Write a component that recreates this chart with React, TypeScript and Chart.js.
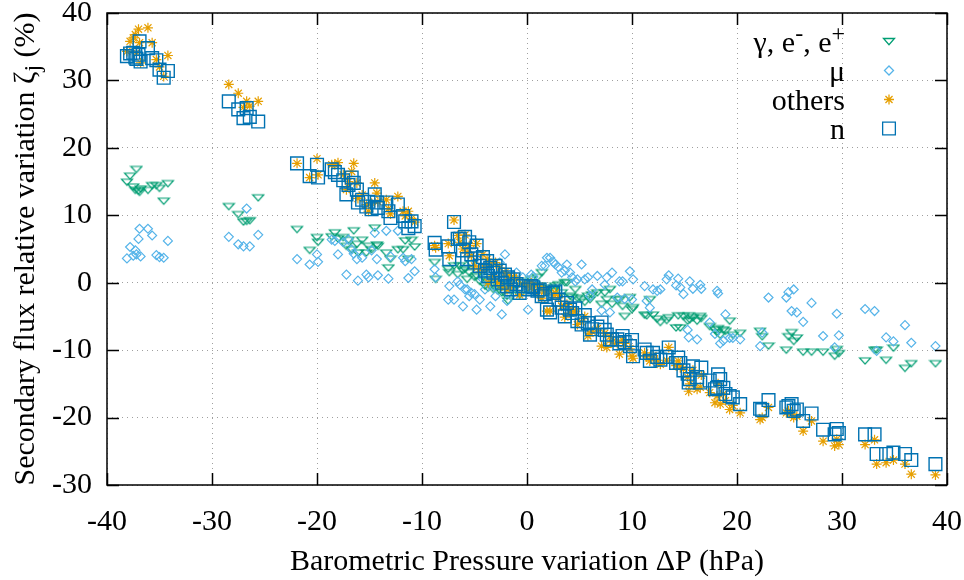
import React, { useEffect, useRef } from 'react';
import { Chart, registerables } from 'chart.js';

Chart.register(...registerables);

// Barometric pressure variation ΔP (hPa), shared by all four series
const pressure = [
  -38.1, -37.8, -37.5, -37.3, -37.2, -37.0, -36.9, -36.8, -36.1, -35.7, -35.3, -35.0, -34.6, -34.2,
  -28.4, -27.5, -27.0, -26.7, -26.4, -25.6,
  -21.9, -20.7, -20.0, -19.9, -18.6, -18.3, -18.0, -17.5, -17.2, -17.0, -16.7, -16.5, -16.2, -16.1, -15.7,
  -15.3, -15.1, -14.8, -14.5, -14.3, -14.2, -13.4, -13.2, -13.0, -12.3, -11.8, -11.6, -11.3, -11.0, -10.7,
  -8.8, -8.7, -7.5, -7.4, -6.95, -6.6, -6.4, -6.1, -5.9, -5.7, -5.5, -5.3, -5.0, -4.8, -4.5, -4.2, -4.0,
  -3.8, -3.7, -3.5, -3.2, -3.0, -2.8, -2.6, -2.4, -2.1, -1.9, -1.8, -1.5, -1.3, -1.0, -0.7, -0.4, 0.1,
  0.4, 0.6, 1.0, 1.2, 1.4, 1.7, 1.9, 2.2, 2.5, 2.7, 3.0, 3.3, 3.6, 3.8, 4.1, 4.3, 4.6, 4.8, 5.2, 5.5,
  5.8, 6.0, 6.2, 6.7, 7.1, 7.4, 7.6, 7.9, 8.1, 8.6, 8.8, 9.1, 9.3, 9.8, 10.0, 10.1,
  11.2, 11.4, 11.7, 12.0, 12.4, 12.7, 13.3, 13.5, 14.2, 14.4, 14.6, 14.9, 15.3, 15.4, 15.5, 15.8, 16.2,
  16.5, 16.6, 17.4, 17.9, 18.1, 18.2, 18.4, 18.7, 18.9, 19.3, 19.6,
  20.3, 22.2, 22.4, 23.0, 24.7, 24.9, 25.2, 25.4, 25.7, 26.3, 27.1, 28.2, 29.3, 29.5, 29.7,
  32.2, 33.1, 33.3, 34.2, 34.9, 36.0, 36.6, 38.9,
];

// ζ for n
const neutronFlux = [
  33.6, 34.0, 34.1, 33.4, 33.2, 33.8, 35.8, 32.8, 34.8, 33.3, 33.0, 31.6, 30.4, 31.4,
  26.9, 25.7, 24.4, 25.9, 24.6, 23.9,
  17.7, 15.8, 17.5, 15.6, 16.8, 16.4, 16.0, 15.2, 13.1, 14.5, 15.6, 14.8, 13.8, 11.9, 12.3,
  11.3, 12.0, 10.9, 13.1, 11.9, 11.1, 11.9, 10.6, 9.6, 11.6, 9.9, 9.1, 8.1, 9.1, 8.4,
  5.9, 4.9, 5.4, 3.5, 9.0, 6.5, 6.5, 4.8, 6.8, 3.5, 6.0, 4.2, 3.0, 5.5, 2.5, 3.8, 1.8,
  3.2, 1.0, 2.2, 1.5, 2.5, 0.5, 1.8, 0.0, 1.2, -0.5, 0.8, -1.0, 0.5, -0.2, -1.5, -0.5, -1.0,
  -0.5, -0.7, -1.2, -1.0, -2.0, -1.7, -4.0, -4.4, -1.5, -1.3, -2.5, -3.7, -5.0, -3.0, -4.0, -4.5, -3.8, -5.7, -6.2, -4.8,
  -6.0, -7.7, -6.9, -6.5, -5.9, -7.0, -7.7, -8.4, -8.4, -8.4, -9.0, -7.9, -8.8, -9.4, -8.5, -10.9,
  -9.9, -10.4, -11.6, -10.4, -11.0, -11.4, -11.0, -9.6, -11.9, -11.1, -11.9, -13.0, -13.5, -14.8, -14.3, -12.4, -14.0,
  -14.8, -12.6, -14.5, -15.8, -15.6, -13.6, -14.3, -15.6, -16.5, -16.8, -17.0,
  -18.0, -18.7, -18.9, -17.4, -18.5, -18.3, -18.0, -19.0, -18.8, -20.5, -19.4, -21.8, -22.5, -21.7, -22.3,
  -22.5, -22.5, -25.4, -25.4, -25.2, -25.4, -26.3, -26.9,
];

// ζ for others
const othersFlux = [
  34.3, 35.8, 36.3, 36.8, 34.1, 37.6, 35.6, 32.6, 37.8, 35.6, 33.1, 32.0, 30.6, 33.7,
  29.4, 28.1, 26.0, 26.9, 26.2, 26.9,
  17.7, 15.6, 18.4, 16.0, 17.5, 17.5, 17.8, 16.0, 13.8, 15.0, 16.5, 17.7, 14.8, 12.5, 13.0,
  11.6, 10.6, 11.8, 14.8, 13.3, 12.0, 12.3, 11.0, 10.2, 12.8, 10.6, 9.9, 10.6, 9.5, 9.0,
  5.5, 5.2, 5.8, 4.0, 9.3, 7.0, 6.0, 5.0, 7.1, 4.5, 5.5, 4.0, 2.5, 5.8, 2.0, 4.2, 2.2,
  3.5, 0.0, 2.8, 1.0, 3.0, 0.0, 2.2, -0.5, 1.5, -1.0, 1.0, -0.5, 0.8, 0.5, -1.8, -0.2, -0.5,
  0.0, -1.0, -1.5, -0.5, -2.3, -1.2, -4.2, -4.2, -1.8, -1.5, -2.2, -3.5, -5.1, -3.2, -4.5, -4.0, -4.2, -6.2, -5.8, -5.0,
  -7.9, -7.5, -7.2, -6.8, -9.4, -7.5, -9.6, -8.0, -8.8, -9.0, -10.6, -8.5, -9.0, -9.8, -10.9, -11.2,
  -10.4, -11.0, -11.6, -10.8, -11.5, -12.1, -11.5, -9.6, -12.3, -11.6, -12.5, -12.8, -14.0, -16.1, -15.0, -13.0, -15.8,
  -15.5, -13.7, -16.3, -17.8, -16.8, -15.0, -18.0, -16.5, -17.5, -18.8, -18.2,
  -19.3, -20.3, -20.0, -18.5, -19.3, -19.0, -19.5, -20.0, -19.8, -22.0, -20.5, -23.5, -24.2, -23.2, -24.0,
  -24.0, -23.3, -26.9, -26.7, -26.3, -26.9, -28.4, -28.5,
];

// ζ for γ, e-, e+
const gammaFlux = [
  14.9, 15.8, 14.2, 13.7, 16.8, 13.6, 13.4, 13.9, 13.7, 14.4, 14.4, 14.0, 12.1, 14.7,
  11.3, 10.1, 9.0, 9.1, 9.2, 12.6,
  7.9, 4.8, 6.7, 6.0, 6.8, 7.4, 6.5, 6.7, 5.4, 6.3, 4.9, 7.7, 5.7, 4.4, 6.3,
  4.4, 5.4, 4.9, 8.1, 5.6, 5.4, 4.4, 2.2, 3.5, 4.9, 4.9, 6.2, 3.5, 6.3, 5.3,
  3.0, 0.5, 2.0, 1.5, 2.5, 1.2, 2.5, 1.8, 2.0, 0.5, 1.5, 2.8, 0.8, 1.0, 0.2, 1.5, -0.5,
  0.2, -0.8, 0.5, -1.0, 0.0, -1.2, -0.3, -1.5, -0.5, -2.0, -2.7, -1.0, 0.5, -0.5, -1.8, 0.2, -0.8,
  0.5, -0.5, 0.8, -0.5, 1.5, -1.0, -1.5, -0.8, -1.2, -0.5, -0.3, -1.5, 0.0, 0.0, -2.0, -2.2, -1.0, -2.3, -2.5, -2.9,
  -2.0, -2.5, -1.8, -1.5, -3.2, -1.5, -2.5, -1.0, -3.2, -2.5, -2.5, -3.5, -5.0, -2.2, -4.0, -3.7,
  -4.8, -4.9, -2.5, -4.8, -5.4, -5.9, -5.6, -5.2, -6.7, -4.9, -6.7, -5.0, -5.7, -4.9, -5.5, -5.2, -5.7,
  -5.0, -5.3, -6.5, -7.0, -7.4, -6.8, -7.8, -7.0, -7.2, -5.7, -7.8,
  -7.5, -7.2, -8.0, -9.4, -10.0, -8.0, -7.4, -8.7, -8.2, -10.3, -10.3, -10.3, -10.9, -9.9, -10.5,
  -11.6, -10.0, -10.0, -11.5, -9.7, -12.7, -12.0, -12.0,
];

// ζ for μ
const muonFlux = [
  3.6, 5.3, 4.0, 4.8, 4.2, 6.5, 8.0, 3.9, 8.0, 7.0, 4.1, 3.8, 3.7, 6.2,
  6.8, 5.7, 5.4, 11.0, 5.4, 7.1,
  3.5, 2.7, 4.2, 3.1, 6.4, 6.2, 4.2, 6.0, 1.2, 6.4, 4.9, 4.3, 3.5, 0.3, 3.7,
  1.2, 0.8, 4.8, 7.4, 3.5, 1.1, 7.7, 0.6, 3.9, 7.7, 3.7, 3.2, 0.7, 3.5, 1.7,
  2.0, 0.8, -2.5, -0.5, -2.5, 0.2, -0.3, -3.5, -1.0, -1.0, -2.0, -1.5, -1.7, -4.0, -2.5, 0.5, -1.0,
  2.0, 2.7, -3.5, -0.5, -2.0, 1.0, 3.0, -4.7, 4.2, -2.7, -0.5, 0.5, -1.5, 1.5, -1.0, 0.8, -4.0,
  1.2, 0.9, -0.2, -1.7, 2.5, 2.5, 3.7, 3.7, 3.1, 2.7, 2.3, 1.5, 1.8, 2.7, 1.5, 0.8, 0.2, 0.5, 2.7, 0.5,
  0.8, -2.0, -1.0, 1.0, -4.1, -0.3, 0.8, -4.4, 1.5, -2.2, 0.2, 0.2, -2.4, 1.7, -2.5, 0.5,
  -0.5, -2.7, -3.7, -1.0, -1.2, -1.0, 0.5, 1.1, -0.4, 0.6, -0.7, -1.7, -7.0, -8.1, 0.2, -0.9, -8.4,
  -0.3, -0.9, -5.9, -7.6, -1.2, -1.6, -9.0, -8.6, -4.7, -8.2, -8.2,
  -8.4, -9.4, -7.4, -2.2, -2.2, -1.4, -4.2, -1.0, -4.4, -5.8, -3.0, -7.9, -9.6, -4.6, -7.8,
  -3.9, -4.2, -10.1, -8.1, -8.7, -6.3, -8.9, -9.4,
];

const xTicks = [-40, -30, -20, -10, 0, 10, 20, 30, 40];
const yTicks = [-30, -20, -10, 0, 10, 20, 30, 40];

const legendLabels = ['γ, e-, e+', 'μ', 'others', 'n'];
const xTitle = 'Barometric Pressure variation ΔP (hPa)';
const yTitle = 'Secondary flux relative variation ζj (%)';

const COLORS = {
  gamma: '#009e73',
  muon: '#56b4e9',
  others: '#e69f00',
  neutron: '#0072b2',
};

const FONT = '"Liberation Serif", "Times New Roman", Times, serif';
const FS = 30;

function traceTriangle(ctx: CanvasRenderingContext2D, x: number, y: number) {
  // flat, downward pointing triangle (gnuplot style)
  ctx.moveTo(x - 5.5, y - 3);
  ctx.lineTo(x + 5.5, y - 3);
  ctx.lineTo(x, y + 3.2);
  ctx.closePath();
}

function makeTriangleImage(color: string) {
  const c = document.createElement('canvas');
  c.width = 14;
  c.height = 10;
  const g = c.getContext('2d');
  if (g) {
    g.strokeStyle = color;
    g.lineWidth = 1.2;
    g.beginPath();
    traceTriangle(g, 7, 5);
    g.stroke();
  }
  return c;
}

function drawMarker(ctx: CanvasRenderingContext2D, kind: string, x: number, y: number, color: string) {
  ctx.save();
  ctx.strokeStyle = color;
  ctx.lineWidth = 1.3;
  ctx.beginPath();
  if (kind === 'tri') {
    traceTriangle(ctx, x, y);
  } else if (kind === 'diamond') {
    const r = 4.5;
    ctx.moveTo(x, y - r);
    ctx.lineTo(x + r, y);
    ctx.lineTo(x, y + r);
    ctx.lineTo(x - r, y);
    ctx.closePath();
  } else if (kind === 'star') {
    const r = 5;
    const d = r * Math.SQRT1_2;
    ctx.moveTo(x - r, y); ctx.lineTo(x + r, y);
    ctx.moveTo(x, y - r); ctx.lineTo(x, y + r);
    ctx.moveTo(x - d, y - d); ctx.lineTo(x + d, y + d);
    ctx.moveTo(x - d, y + d); ctx.lineTo(x + d, y - d);
  } else {
    const s = 9 * Math.SQRT1_2;
    ctx.rect(x - s, y - s, 2 * s, 2 * s);
  }
  ctx.stroke();
  ctx.restore();
}

type Part = { t: string; size: number; dy: number };

function drawParts(ctx: CanvasRenderingContext2D, parts: Part[], x: number, y: number, align: 'left' | 'center' | 'right') {
  let total = 0;
  const widths = parts.map((p) => {
    ctx.font = `${p.size}px ${FONT}`;
    const w = ctx.measureText(p.t).width;
    total += w;
    return w;
  });
  let cx = align === 'left' ? x : align === 'center' ? x - total / 2 : x - total;
  ctx.textAlign = 'left';
  parts.forEach((p, i) => {
    ctx.font = `${p.size}px ${FONT}`;
    ctx.fillText(p.t, cx, y + p.dy);
    cx += widths[i];
  });
}

export default function App() {
  const ref = useRef<HTMLCanvasElement | null>(null);

  useEffect(() => {
    const canvas = ref.current;
    if (!canvas) return;
    const toPts = (arr: number[]) => pressure.map((x, i) => ({ x, y: arr[i] }));
    const triImage = makeTriangleImage(COLORS.gamma);

    const framePlugin = {
      id: 'gnuplotFrame',
      afterDraw(chart: any) {
        const { ctx, chartArea: a, scales } = chart;
        const sx = scales.x;
        const sy = scales.y;
        ctx.save();
        // inward ticks on all four sides
        ctx.strokeStyle = '#000';
        ctx.lineWidth = 1.5;
        const tl = 12;
        ctx.beginPath();
        xTicks.forEach((v) => {
          const px = Math.round(sx.getPixelForValue(v)) + 0.5;
          ctx.moveTo(px, a.bottom); ctx.lineTo(px, a.bottom - tl);
          ctx.moveTo(px, a.top); ctx.lineTo(px, a.top + tl);
        });
        yTicks.forEach((v) => {
          const py = Math.round(sy.getPixelForValue(v)) + 0.5;
          ctx.moveTo(a.left, py); ctx.lineTo(a.left + tl, py);
          ctx.moveTo(a.right, py); ctx.lineTo(a.right - tl, py);
        });
        ctx.stroke();
        // frame
        ctx.strokeRect(a.left, a.top, a.right - a.left, a.bottom - a.top);

        ctx.fillStyle = '#000';
        ctx.textBaseline = 'alphabetic';
        // x title
        ctx.font = `${FS}px ${FONT}`;
        ctx.textAlign = 'center';
        ctx.fillText(xTitle, (a.left + a.right) / 2, 570);

        // y title (rotated)
        ctx.save();
        ctx.translate(34, (a.top + a.bottom) / 2);
        ctx.rotate(-Math.PI / 2);
        const zi = yTitle.indexOf('ζ');
        drawParts(
          ctx,
          [
            { t: yTitle.slice(0, zi + 1), size: FS, dy: 0 },
            { t: 'j', size: 24, dy: 6 },
            { t: yTitle.slice(zi + 2), size: FS, dy: 0 },
          ],
          0,
          0,
          'center'
        );
        ctx.restore();

        // legend
        const kinds = ['tri', 'diamond', 'star', 'square'];
        const cols = [COLORS.gamma, COLORS.muon, COLORS.others, COLORS.neutron];
        legendLabels.forEach((label, i) => {
          const rowY = 41.5 + i * 29;
          const base = rowY + 10.5;
          ctx.fillStyle = '#000';
          if (i === 0) {
            drawParts(
              ctx,
              [
                { t: 'γ, e', size: FS, dy: 0 },
                { t: '-', size: 24, dy: -11 },
                { t: ', e', size: FS, dy: 0 },
                { t: '+', size: 24, dy: -11 },
              ],
              845,
              base,
              'right'
            );
          } else {
            ctx.font = `${FS}px ${FONT}`;
            ctx.textAlign = 'right';
            ctx.fillText(label, 845, base);
          }
          drawMarker(ctx, kinds[i], 889, rowY, cols[i]);
        });
        ctx.restore();
      },
    };

    const tickFont = { family: FONT, size: FS };

    const chart = new Chart(canvas, {
      type: 'scatter',
      data: {
        datasets: [
          {
            label: legendLabels[0],
            data: toPts(gammaFlux),
            pointStyle: triImage,
            pointRadius: 6,
            borderColor: COLORS.gamma,
            backgroundColor: 'rgba(0,0,0,0)',
            borderWidth: 1.2,
            order: 4,
          },
          {
            label: legendLabels[1],
            data: toPts(muonFlux),
            pointStyle: 'rectRot',
            pointRadius: 4.5,
            borderColor: COLORS.muon,
            backgroundColor: 'rgba(0,0,0,0)',
            borderWidth: 1.2,
            order: 3,
          },
          {
            label: legendLabels[2],
            data: toPts(othersFlux),
            pointStyle: 'star',
            pointRadius: 5,
            borderColor: COLORS.others,
            backgroundColor: 'rgba(0,0,0,0)',
            borderWidth: 1.2,
            order: 2,
          },
          {
            label: legendLabels[3],
            data: toPts(neutronFlux),
            pointStyle: 'rect',
            pointRadius: 9,
            borderColor: COLORS.neutron,
            backgroundColor: 'rgba(0,0,0,0)',
            borderWidth: 1.4,
            order: 1,
          },
        ] as any,
      },
      options: {
        animation: false,
        responsive: false,
        events: [],
        layout: { padding: { top: 13, right: 17, bottom: 0, left: 0 } },
        plugins: {
          legend: { display: false },
          tooltip: { enabled: false },
          title: { display: false },
        },
        scales: {
          x: {
            type: 'linear',
            min: -40,
            max: 40,
            afterBuildTicks: (s: any) => {
              s.ticks = xTicks.map((v) => ({ value: v }));
            },
            afterFit: (s: any) => {
              s.height = 95;
              s.paddingLeft = 0;
              s.paddingRight = 0;
            },
            ticks: {
              font: tickFont,
              color: '#000',
              padding: 19,
              maxRotation: 0,
              autoSkip: false,
            },
            grid: { color: '#a0a0a0', lineWidth: 1, drawTicks: false },
            border: { display: false, dash: [1, 4] },
          },
          y: {
            type: 'linear',
            min: -30,
            max: 40,
            afterBuildTicks: (s: any) => {
              s.ticks = yTicks.map((v) => ({ value: v }));
            },
            afterFit: (s: any) => {
              s.width = 107;
              s.paddingTop = 0;
              s.paddingBottom = 0;
            },
            ticks: {
              font: tickFont,
              color: '#000',
              padding: 15,
              autoSkip: false,
            },
            grid: { color: '#a0a0a0', lineWidth: 1, drawTicks: false },
            border: { display: false, dash: [1, 4] },
          },
        },
      } as any,
      plugins: [framePlugin],
    });

    return () => {
      chart.destroy();
    };
  }, []);

  return (
    <div style={{ position: 'absolute', left: 0, top: 0, width: 964, height: 580, background: '#fff' }}>
      <canvas ref={ref} width={964} height={580} style={{ width: 964, height: 580, display: 'block' }} />
    </div>
  );
}
